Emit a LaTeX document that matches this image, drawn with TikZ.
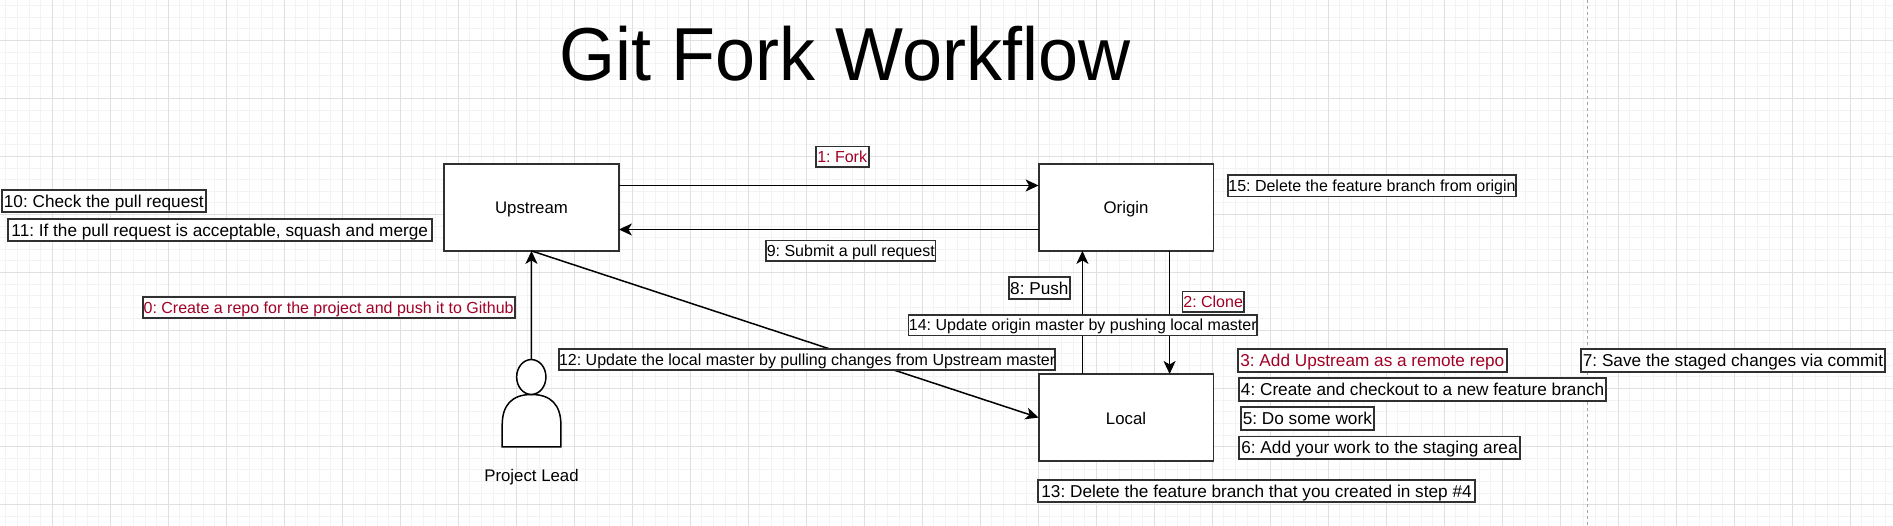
\documentclass[tikz,border=0pt]{standalone}
\usepackage{fontspec}
\setmainfont{Liberation Sans}
\usetikzlibrary{arrows.meta,shapes.geometric}
\definecolor{redtxt}{HTML}{A20025}
\definecolor{gridmaj}{HTML}{E0E0E0}
\definecolor{gridmin}{HTML}{F3F3F3}
\definecolor{edgecol}{HTML}{303030}
\tikzset{
  boxnode/.style={draw=edgecol,line width=1.8pt,fill=white,minimum width=174.8pt,minimum height=87.2pt,inner sep=0pt,outer sep=0pt,text height=16pt,text depth=2.6pt,font=\frenchspacing\fontsize{16.8}{20}\selectfont},
  lab/.style={draw=edgecol,line width=1.8pt,fill=white,inner sep=0pt,outer sep=0pt,text=black,text height=15pt,text depth=3pt,font=\frenchspacing\fontsize{17.2}{20}\selectfont},
  labsm/.style={lab,text height=14.5pt,text depth=3pt,font=\frenchspacing\fontsize{16}{19}\selectfont},
  redlab/.style={text=redtxt},
  conn/.style={draw=black,line width=1.5pt,-{Stealth[length=13pt,width=12pt,inset=3.5pt]}},
  plain/.style={draw=black,line width=1.5pt}
}
\begin{document}
\begin{tikzpicture}[x=1pt,y=-1pt]
\useasboundingbox (0,0) rectangle (1893,526);
\fill[white] (0,0) rectangle (1893,526);
% grid
\foreach \i in {-4,...,163} {
  \draw[gridmin,line width=1pt] ({52.2+11.6*\i},0) -- ({52.2+11.6*\i},526);
}
\foreach \i in {-3,...,42} {
  \draw[gridmin,line width=1pt] (0,{40.6+11.6*\i}) -- (1893,{40.6+11.6*\i});
}
\foreach \i in {0,...,32} {
  \draw[gridmaj,line width=1pt] ({52.2+58*\i},0) -- ({52.2+58*\i},526);
}
\foreach \i in {0,...,8} {
  \draw[gridmaj,line width=1pt] (0,{40.6+58*\i}) -- (1893,{40.6+58*\i});
}
\draw[gray!70,line width=0.8pt,dash pattern=on 3pt off 3pt] (1587.8,0) -- (1587.8,526);
% title
\node[anchor=base,inner sep=0pt,font=\fontsize{72}{80}\selectfont] (title) at (844.7,80.5) {\scalebox{1}[1.043]{Git Fork Workflow}};
% main boxes
\node[boxnode] (up) at (531.5,207.3) {Upstream};
\node[boxnode] (or) at (1126,207.3) {Origin};
\node[boxnode] (loc) at (1126,417.6) {Local};
% person
\draw[plain,fill=white] (502.2,446.8) -- (502.2,425) .. controls (502.2,405) and (512,394.5) .. (531.5,394.5) .. controls (551,394.5) and (560.9,405) .. (560.9,425) -- (560.9,446.8) -- cycle;
\node[draw=black,line width=1.5pt,fill=white,ellipse,minimum width=29.3pt,minimum height=34.9pt,inner sep=0pt,outer sep=0pt] (head) at (531.3,377) {};
\node[inner sep=0pt,text height=16pt,text depth=2.6pt,font=\frenchspacing\fontsize{16.8}{20}\selectfont] (lead) at (531.5,475) {Project Lead};
% connectors
\draw[conn] ([yshift=21.8pt]up.east) -- ([yshift=21.8pt]or.west);
\draw[conn] ([yshift=-22.2pt]or.west) -- ([yshift=-22.2pt]up.east);
\draw[conn] (head.north) -- (up.south);
\draw[conn] (up.south) -- (loc.west);
\draw[conn] ([xshift=-43.6pt]loc.north) -- ([xshift=-43.6pt]or.south);
\draw[conn] ([xshift=43.6pt]or.south) -- ([xshift=43.6pt]loc.north);
% labels
\node[lab,minimum width=203.7pt,minimum height=22.4pt] (l10) at (103.85,201.1) {10: Check the pull request};
\node[lab,minimum width=424.3pt,minimum height=22.2pt] (l11) at (219.75,230.1) {11: If the pull request is acceptable, squash and merge};
\node[labsm,redlab,minimum width=372.1pt,minimum height=20.8pt] (l0) at (328.65,307.6) {0: Create a repo for the project and push it to Github};
\node[labsm,minimum width=495.7pt,minimum height=21.1pt] (l12) at (807.15,359.75) {12: Update the local master by pulling changes from Upstream master};
\node[labsm,redlab,minimum width=53.1pt,minimum height=20.8pt] (l1) at (842.15,157) {1: Fork};
\node[labsm,minimum width=169.2pt,minimum height=20.8pt] (l9) at (850.8,250.9) {9: Submit a pull request};
\node[lab,minimum width=61pt,minimum height=22.2pt] (l8) at (1039.4,288.1) {8: Push};
\node[labsm,redlab,minimum width=61.5pt,minimum height=20.8pt] (l2) at (1213.15,301.9) {2: Clone};
\node[labsm,minimum width=348.8pt,minimum height=20.8pt] (l14) at (1082.8,325.1) {14: Update origin master by pushing local master};
\node[labsm,minimum width=286.9pt,minimum height=21.2pt] (l15) at (1372,186) {15: Delete the feature branch from origin};
\node[lab,redlab,minimum width=268.8pt,minimum height=22.5pt] (l3) at (1372.3,360.45) {3: Add Upstream as a remote repo};
\node[lab,minimum width=304pt,minimum height=22.5pt] (l7) at (1733,360.45) {7: Save the staged changes via commit};
\node[lab,minimum width=367.3pt,minimum height=22.5pt] (l4) at (1422.65,389.65) {4: Create and checkout to a new feature branch};
\node[lab,minimum width=133.3pt,minimum height=22.5pt] (l5) at (1307.35,418.45) {5: Do some work};
\node[lab,minimum width=281pt,minimum height=22.2pt] (l6) at (1379.5,447.5) {6: Add your work to the staging area};
\node[lab,minimum width=437.5pt,minimum height=22.2pt] (l13) at (1256.55,491.1) {13: Delete the feature branch that you created in step \#4};
\end{tikzpicture}
\end{document}
